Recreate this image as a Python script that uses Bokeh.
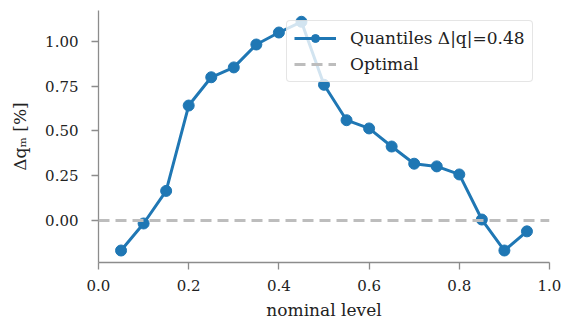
from bokeh.plotting import figure
from bokeh.models import FixedTicker, Legend, LegendItem, Span, CustomJSTickFormatter
from bokeh.embed import file_html
from bokeh.resources import INLINE

# nominal quantile levels and the corresponding deviation of the observed quantiles [%]
levels = [0.05, 0.10, 0.15, 0.20, 0.25, 0.30, 0.35, 0.40, 0.45, 0.50,
          0.55, 0.60, 0.65, 0.70, 0.75, 0.80, 0.85, 0.90, 0.95]
delta_q = [-0.168, -0.017, 0.165, 0.642, 0.800, 0.855, 0.983, 1.050, 1.110, 0.758,
           0.560, 0.514, 0.413, 0.317, 0.302, 0.257, 0.005, -0.168, -0.061]
x_ticks = [0.0, 0.2, 0.4, 0.6, 0.8, 1.0]
y_ticks = [0.0, 0.25, 0.5, 0.75, 1.0]

mean_abs = sum(abs(v) for v in delta_q) / len(delta_q)

FONT = "DejaVu Serif"
BLUE = "#1f77b4"
AXIS = "#8c8c8c"
TEXT = "#222222"

p = figure(width=563, height=325, output_backend="svg", toolbar_location=None,
           x_range=(0.0, 1.0), y_range=(-0.235, 1.173),
           min_border_left=98, min_border_right=14, min_border_top=10, min_border_bottom=63)
p.outline_line_color = None
p.xgrid.visible = False
p.ygrid.visible = False
p.background_fill_color = "white"
p.border_fill_color = "white"

# zero reference line
zero = Span(location=0.0, dimension="width", line_color="#bdbdbd", line_width=3,
            line_dash="11 6")
p.add_layout(zero)
opt = p.line([0, 1], [0, 0], line_color="#bdbdbd", line_width=3, line_dash="11 6",
             visible=False)

ln = p.line(levels, delta_q, line_color=BLUE, line_width=3)
sc = p.scatter(levels, delta_q, size=11, fill_color=BLUE, line_color=BLUE)

for ax in (p.xaxis[0], p.yaxis[0]):
    ax.axis_line_color = AXIS
    ax.axis_line_width = 1.3
    ax.major_tick_line_color = AXIS
    ax.major_tick_line_width = 1.3
    ax.major_tick_out = 7
    ax.major_tick_in = 0
    ax.minor_tick_line_color = None
    ax.major_label_text_font = FONT
    ax.major_label_text_font_size = "15px"
    ax.major_label_text_color = TEXT
    ax.axis_label_text_font = FONT
    ax.axis_label_text_font_size = "17px"
    ax.axis_label_text_font_style = "normal"
    ax.axis_label_text_color = TEXT

p.xaxis.ticker = FixedTicker(ticks=x_ticks)
p.yaxis.ticker = FixedTicker(ticks=y_ticks)
p.xaxis.formatter = CustomJSTickFormatter(code="return tick.toFixed(1);")
p.yaxis.formatter = CustomJSTickFormatter(code="return tick.toFixed(2);")
p.xaxis.axis_label = "nominal level"
p.yaxis.axis_label = "Δqₘ [%]"
p.xaxis.major_label_standoff = 10
p.yaxis.major_label_standoff = 13
p.xaxis.axis_label_standoff = 6
p.yaxis.axis_label_standoff = 12

legend = Legend(items=[
    LegendItem(label=f"Quantiles Δ|q|={mean_abs:.2f}", renderers=[ln, sc]),
    LegendItem(label="Optimal", renderers=[opt]),
], location=(188, 180))
legend.label_text_font = FONT
legend.label_text_font_size = "17px"
legend.label_text_color = TEXT
legend.background_fill_alpha = 0.8
legend.border_line_color = "#cccccc"
legend.border_line_width = 1.5
legend.glyph_width = 42
legend.glyph_height = 20
legend.label_height = 20
legend.label_standoff = 14
legend.spacing = 6
legend.padding = 7
legend.margin = 0
if "border_radius" in Legend.properties():
    legend.border_radius = 4
p.add_layout(legend)

open("out.html", "w").write(file_html(p, INLINE))
